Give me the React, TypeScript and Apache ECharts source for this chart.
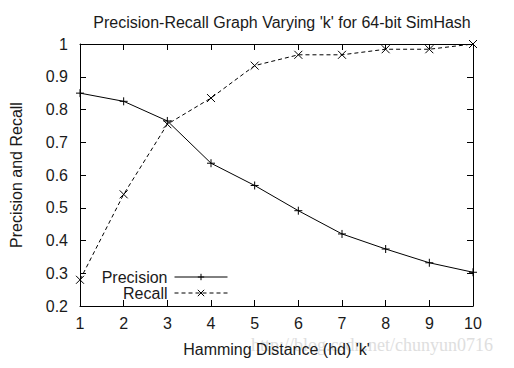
import React, { useEffect, useRef } from "react";
import * as echarts from "echarts";

const hammingDistance = [1, 2, 3, 4, 5, 6, 7, 8, 9, 10];
const precision = [0.85, 0.825, 0.765, 0.636, 0.568, 0.491, 0.42, 0.374, 0.332, 0.303];
const recall = [0.28, 0.541, 0.755, 0.835, 0.934, 0.967, 0.967, 0.984, 0.984, 1.0];

const titleText = "Precision-Recall Graph Varying 'k' for 64-bit SimHash";
const xName = "Hamming Distance (hd) 'k'";
const yName = "Precision and Recall";
const watermark = "http://blog.csdn.net/chunyun0716";

const plusPath = "path://M5,0L5,10M0,5L10,5";
const crossPath = "path://M0,0L10,10M10,0L0,10";

const FONT = "Liberation Sans, Arial, sans-serif";
const TXT = "#1a1a1a";

export default function App() {
  const ref = useRef<HTMLDivElement>(null);
  useEffect(() => {
    if (!ref.current) return;
    const chart = echarts.init(ref.current, null, { renderer: "svg" });
    const axisCommon = {
      axisLine: { show: true, lineStyle: { color: "#000", width: 1 } },
      axisTick: { show: true, inside: true, length: 6, lineStyle: { color: "#000" } },
      splitLine: { show: false },
    };
    const legendCommon = {
      right: 286,
      align: "right",
      itemWidth: 53,
      itemHeight: 8,
      itemGap: 0,
      padding: 0,
      lineStyle: { width: 1 },
      itemStyle: { borderWidth: 1 },
      textStyle: { fontSize: 16, color: TXT, fontFamily: FONT, padding: [0, 2, 0, 0] },
    };
    chart.setOption({
      animation: false,
      backgroundColor: "#fff",
      textStyle: { fontFamily: FONT },
      title: {
        text: titleText,
        left: 277,
        textAlign: "center",
        top: 9,
        textStyle: { fontSize: 16, fontWeight: "normal", color: TXT, fontFamily: FONT },
      },
      graphic: [
        {
          type: "text",
          right: 21,
          top: 336,
          z: -1,
          style: {
            text: watermark,
            fill: "#dedede",
            font: "18px 'Liberation Serif', serif",
          },
        },
      ],
      grid: { left: 80, right: 41, top: 44, bottom: 62 },
      legend: [
        { ...legendCommon, data: ["Precision"], top: 269 },
        { ...legendCommon, data: ["Recall"], top: 285 },
      ],
      xAxis: [
        {
          type: "value",
          min: 1,
          max: 10,
          interval: 1,
          position: "bottom",
          name: xName,
          nameLocation: "middle",
          nameGap: 35,
          nameTextStyle: { fontSize: 16, color: TXT, fontFamily: FONT },
          axisLabel: { fontSize: 16, color: TXT, margin: 9, fontFamily: FONT },
          ...axisCommon,
        },
        {
          type: "value",
          min: 1,
          max: 10,
          interval: 1,
          position: "top",
          axisLabel: { show: false },
          ...axisCommon,
        },
      ],
      yAxis: [
        {
          type: "value",
          min: 0.2,
          max: 1,
          interval: 0.1,
          position: "left",
          name: yName,
          nameLocation: "middle",
          nameGap: 56,
          nameRotate: 90,
          nameTextStyle: { fontSize: 16, color: TXT, fontFamily: FONT },
          axisLabel: { fontSize: 16, color: TXT, margin: 12, fontFamily: FONT },
          ...axisCommon,
        },
        {
          type: "value",
          min: 0.2,
          max: 1,
          interval: 0.1,
          position: "right",
          axisLabel: { show: false },
          ...axisCommon,
        },
      ],
      series: [
        {
          name: "Precision",
          type: "line",
          data: hammingDistance.map((x, i) => [x, precision[i]]),
          symbol: plusPath,
          symbolSize: 8,
          showAllSymbol: true,
          lineStyle: { color: "#000", width: 1 },
          itemStyle: { color: "#000", borderColor: "#000", borderWidth: 1 },
        },
        {
          name: "Recall",
          type: "line",
          data: hammingDistance.map((x, i) => [x, recall[i]]),
          symbol: crossPath,
          symbolSize: 8,
          showAllSymbol: true,
          lineStyle: { color: "#000", width: 1, type: [4, 3] },
          itemStyle: { color: "#000", borderColor: "#000", borderWidth: 1 },
        },
      ],
    });
    return () => chart.dispose();
  }, []);
  return <div ref={ref} style={{ width: 514, height: 368, position: "absolute", left: 0, top: 0 }} />;
}
